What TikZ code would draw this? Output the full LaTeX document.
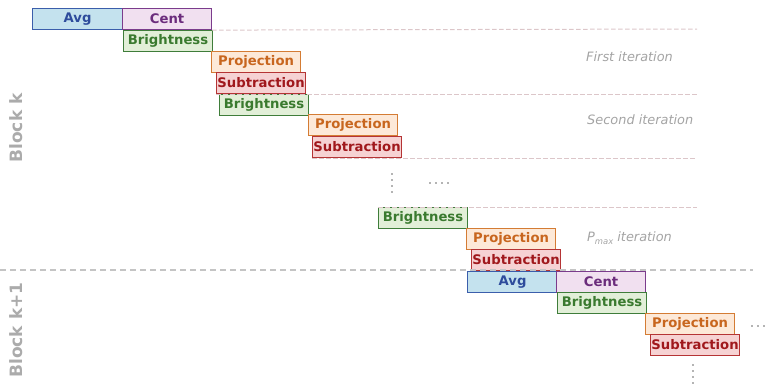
\documentclass[tikz,border=0pt]{standalone}
\usepackage{fontspec}
\setmainfont{DejaVu Sans}
\begin{document}
\begin{tikzpicture}[x=1pt,y=-1pt,
  stage/.style={draw, line width=1.1pt, anchor=north west, minimum width=89pt, minimum height=21pt,
    inner sep=0pt, font=\fontsize{13.2}{15}\selectfont\bfseries},
  avgbox/.style={stage, fill=avgfill, draw=avgline, text=avgtext, minimum width=90pt},
  centbox/.style={stage, fill=centfill, draw=centline, text=centtext},
  bribox/.style={stage, fill=brifill, draw=briline, text=britext},
  projbox/.style={stage, fill=projfill, draw=projline, text=projtext},
  subbox/.style={stage, fill=subfill, draw=subline, text=subtext},
  iterline/.style={draw=iterdash, line width=1pt, dash pattern=on 4.5pt off 2.5pt},
  blockline/.style={draw=blockdash, line width=2pt, dash pattern=on 6pt off 4pt},
  blocklabel/.style={rotate=90, text=blocktext, font=\fontsize{17}{19}\selectfont\bfseries},
  iterlabel/.style={anchor=west, text=labeltext, inner sep=0pt, font=\fontsize{12.9}{14}\selectfont\itshape},
  dots/.style={draw=dotgray, line width=2.2pt, dash pattern=on 2.2pt off 3.8pt}
]
\definecolor{avgfill}{HTML}{C4E2EE}
\definecolor{avgline}{HTML}{3B5EAB}
\definecolor{avgtext}{HTML}{2E4C9C}
\definecolor{centfill}{HTML}{F1E0F0}
\definecolor{centline}{HTML}{7B3C8C}
\definecolor{centtext}{HTML}{6B2C7C}
\definecolor{brifill}{HTML}{E2EFD8}
\definecolor{briline}{HTML}{3F7D3A}
\definecolor{britext}{HTML}{3A7A2F}
\definecolor{projfill}{HTML}{FDE9D8}
\definecolor{projline}{HTML}{D47C34}
\definecolor{projtext}{HTML}{C8661E}
\definecolor{subfill}{HTML}{F6D2D3}
\definecolor{subline}{HTML}{B53435}
\definecolor{subtext}{HTML}{A0181C}
\definecolor{iterdash}{HTML}{DCC6C9}
\definecolor{blockdash}{HTML}{C4C4C4}
\definecolor{blocktext}{HTML}{ABABAB}
\definecolor{labeltext}{HTML}{A4A4A4}
\definecolor{dotgray}{HTML}{B4B4B4}

\useasboundingbox (0,0) rectangle (765,386);

% block k
\node[avgbox]  (avg1)  at (32,8)   {Avg};
\node[centbox] (cent1) at (122,8)  {Cent};
\node[bribox]  (bri1)  at (123,30) {Brightness};
\node[projbox] (proj1) at (211,51) {Projection};
\node[subbox]  (sub1)  at (216,72) {Subtraction};
\node[bribox]  (bri2)  at (219,94) {Brightness};
\node[projbox] (proj2) at (308,114) {Projection};
\node[subbox]  (sub2)  at (312,136) {Subtraction};
\node[bribox]  (bri3)  at (378,207) {Brightness};
\node[projbox] (proj3) at (466,228) {Projection};
\node[subbox]  (sub3)  at (471,249) {Subtraction};

% block k+1
\node[avgbox]  (avg2)  at (467,271) {Avg};
\node[centbox] (cent2) at (556,271) {Cent};
\node[bribox]  (bri4)  at (557,292) {Brightness};
\node[projbox] (proj4) at (645,313) {Projection};
\node[subbox]  (sub4)  at (650,334) {Subtraction};

% iteration separators
\coordinate (e1) at (697,29);
\coordinate (e2) at (697,93);
\coordinate (e3) at (697,157);
\coordinate (e4) at (697,207);
\draw[iterline] (cent1.south east) -- (e1);
\draw[iterline] (sub1.south west) -- (sub1.south west -| e2);
\draw[iterline] (sub2.south west) -- (sub2.south west -| e3);
\draw[iterline] (bri3.north west) -- (bri3.north west -| e4);

% block separator
\coordinate (bl) at (0,270);
\coordinate (br) at (753,270);
\draw[blockline] (bl) -- (br);

% iteration labels
\node[iterlabel] (it1) at (586,57)  {First iteration};
\node[iterlabel] (it2) at (587,120) {Second iteration};
\node[iterlabel] (it3) at (587,238) {P\raisebox{-0.35ex}{\fontsize{8.4}{9}\selectfont max} iteration};

% block labels
\node[blocklabel] (blk1) at (16,128) {Block k};
\node[blocklabel] (blk2) at (16,330) {Block k+1};

% ellipses
\coordinate (v1a) at (392,173);
\coordinate (v1b) at (392,196);
\coordinate (h1a) at (429,183);
\coordinate (h1b) at (452,183);
\coordinate (v2a) at (693,364);
\coordinate (v2b) at (693,387);
\coordinate (h2a) at (751,326);
\coordinate (h2b) at (768,326);
\draw[dots] (v1a) -- (v1b);
\draw[dots] (h1a) -- (h1b);
\draw[dots] (v2a) -- (v2b);
\draw[dots] (h2a) -- (h2b);
\end{tikzpicture}
\end{document}
